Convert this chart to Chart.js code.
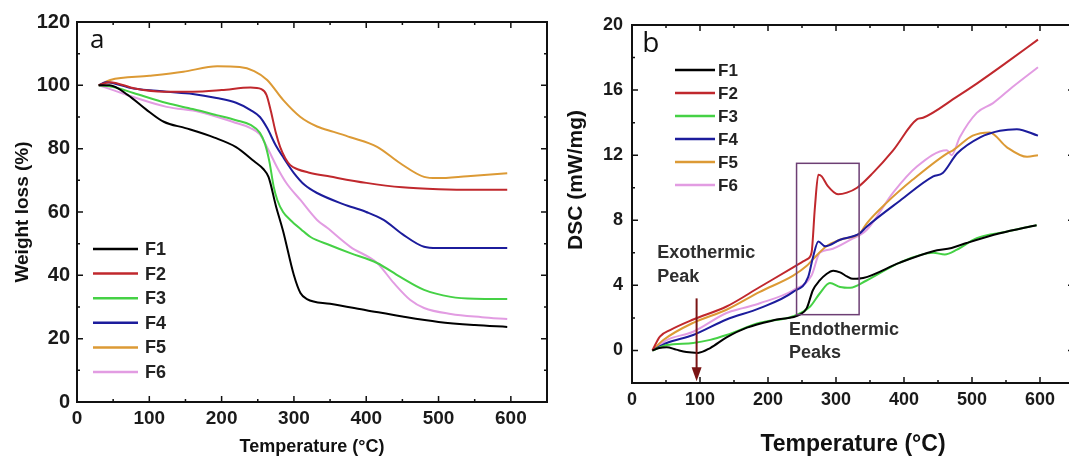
<!DOCTYPE html>
<html>
<head>
<meta charset="utf-8">
<script src="https://cdn.jsdelivr.net/npm/chart.js@4.4.1/dist/chart.umd.min.js"></script>
<style>
  html, body { margin: 0; padding: 0; background: #fff; overflow: hidden; width: 1069px; height: 456px; }
  #tga { position: absolute; left: 0; top: 0; }
  #dsc { position: absolute; left: 560px; top: 0; }
</style>
</head>
<body>
<canvas id="tga" width="560" height="456"></canvas>
<canvas id="dsc" width="520" height="456"></canvas>
<script>
const seriesNames = ['F1', 'F2', 'F3', 'F4', 'F5', 'F6'];
const seriesColors = ['#000000', '#c0282d', '#45d145', '#1c1c9c', '#dc9a35', '#e29ce2'];

// (a) TGA - temperature (°C) / weight (%)
const tgaT_F1 = [30, 45, 70, 95, 120, 150, 190, 220, 245, 258, 265, 275, 285, 300, 309, 318, 350, 400, 450, 500, 550, 595];
const tgaW_F1 = [100, 100, 97, 92.5, 88.5, 86.5, 83.5, 80.5, 76, 73.5, 71, 62, 54, 40, 34.4, 32.5, 31, 29, 27, 25.3, 24.3, 23.7];
const tgaT_F2 = [30, 45, 80, 120, 160, 200, 240, 255, 262, 268, 275, 281, 288, 295, 305, 320, 350, 400, 450, 500, 550, 595];
const tgaW_F2 = [100, 101, 99, 98, 98, 98.5, 99.3, 98.8, 97, 92, 85, 80.5, 77, 74.8, 73.5, 72.5, 71.2, 69.2, 67.8, 67.2, 67, 67];
const tgaT_F3 = [30, 50, 78, 124, 160, 193, 220, 240, 253, 260, 266, 272, 277, 285, 295, 310, 323, 350, 378, 415, 447, 480, 517, 550, 595];
const tgaW_F3 = [100, 99.5, 97.6, 94.4, 92.5, 90.6, 89, 87.5, 85, 81.5, 76, 68, 63.8, 60, 57.5, 54.5, 52.1, 49.5, 47, 43.9, 39.5, 35.4, 33.2, 32.6, 32.5];
const tgaT_F4 = [30, 40, 78, 124, 160, 193, 220, 240, 253, 263, 275, 286, 300, 315, 332, 368, 400, 424, 450, 480, 498, 550, 595];
const tgaW_F4 = [100, 101, 99, 98, 97.3, 96, 94.5, 92.2, 90, 86.5, 81, 77, 72.3, 68.5, 66, 62.5, 60, 57.5, 53, 49, 48.6, 48.6, 48.6];
const tgaT_F5 = [30, 46, 100, 147, 194, 225, 245, 263, 285, 309, 332, 355, 378, 415, 447, 480, 498, 540, 595];
const tgaW_F5 = [100, 101.7, 103, 104.3, 106, 105.8, 104.5, 101.7, 95.4, 90, 87, 85.3, 83.6, 80.6, 75.4, 71.1, 70.7, 71.3, 72.2];
const tgaT_F6 = [30, 50, 78, 124, 170, 216, 240, 253, 265, 277, 290, 309, 332, 346, 378, 415, 438, 461, 480, 517, 560, 595];
const tgaW_F6 = [100, 98.5, 96.3, 93.2, 91.6, 88.4, 86.5, 84.5, 79.5, 74, 69, 63.8, 57.5, 55, 49, 43.9, 37.6, 32.2, 29.7, 27.8, 26.8, 26.2];

// (b) DSC - temperature (°C) / heat flow (mW/mg)
const dscT_F1 = [30, 40, 51, 65, 80, 97, 115, 139, 169, 213, 247, 257, 266, 276, 286, 296, 306, 316, 325, 340, 394, 443, 470, 492, 541, 595];
const dscV_F1 = [0, 0.15, 0.2, 0.05, -0.1, -0.15, 0.15, 0.8, 1.4, 1.9, 2.2, 2.6, 3.7, 4.3, 4.7, 4.9, 4.8, 4.55, 4.4, 4.45, 5.4, 6.1, 6.3, 6.6, 7.2, 7.7];
const dscT_F2 = [30, 41, 56, 90, 139, 188, 237, 257, 264, 269, 274, 279, 288, 303, 316, 331, 354, 384, 419, 428, 478, 507, 551, 597];
const dscV_F2 = [0, 0.85, 1.25, 1.9, 2.7, 3.9, 5.1, 5.6, 6.0, 8.8, 10.8, 10.7, 10.1, 9.6, 9.7, 10.0, 10.9, 12.3, 14.2, 14.3, 15.6, 16.4, 17.7, 19.1];
const dscT_F3 = [30, 51, 90, 115, 139, 188, 237, 262, 276, 291, 306, 321, 345, 394, 443, 460, 478, 507, 550, 595];
const dscV_F3 = [0, 0.33, 0.46, 0.65, 0.95, 1.7, 2.1, 2.7, 3.5, 4.15, 3.9, 3.85, 4.3, 5.4, 6.0, 5.9, 6.2, 6.9, 7.3, 7.7];
const dscT_F4 = [30, 51, 90, 139, 188, 237, 259, 266, 274, 284, 306, 335, 345, 394, 443, 457, 478, 512, 541, 566, 597];
const dscV_F4 = [0, 0.46, 0.95, 1.9, 2.6, 3.6, 4.5, 5.7, 6.7, 6.4, 6.8, 7.2, 7.6, 9.2, 10.7, 10.9, 12.1, 13.1, 13.5, 13.6, 13.2];
const dscT_F5 = [30, 46, 90, 139, 188, 237, 257, 266, 286, 306, 335, 345, 375, 413, 463, 472, 501, 526, 551, 581, 597];
const dscV_F5 = [0, 0.64, 1.7, 2.5, 3.6, 4.6, 5.2, 5.6, 6.4, 6.8, 7.2, 7.8, 9.1, 10.5, 12.1, 12.3, 13.2, 13.4, 12.5, 11.9, 12.0];
const dscT_F6 = [30, 51, 90, 139, 163, 188, 237, 264, 276, 291, 321, 345, 384, 419, 463, 470, 482, 507, 531, 560, 597];
const dscV_F6 = [0, 0.64, 1.15, 2.3, 2.6, 2.9, 3.7, 4.6, 6.0, 6.2, 6.8, 7.4, 9.7, 11.3, 12.3, 12.0, 13.1, 14.6, 15.2, 16.2, 17.4];

const tgaT = [tgaT_F1, tgaT_F2, tgaT_F3, tgaT_F4, tgaT_F5, tgaT_F6];
const tgaW = [tgaW_F1, tgaW_F2, tgaW_F3, tgaW_F4, tgaW_F5, tgaW_F6];
const dscT = [dscT_F1, dscT_F2, dscT_F3, dscT_F4, dscT_F5, dscT_F6];
const dscV = [dscV_F1, dscV_F2, dscV_F3, dscV_F4, dscV_F5, dscV_F6];

const FONT = 'Arial, "Liberation Sans", sans-serif';

function makeDatasets(xs, ys) {
    return seriesNames.map((name, i) => ({
        label: name,
        data: xs[i].map((t, j) => ({ x: t, y: ys[i][j] })),
        borderColor: seriesColors[i],
        borderWidth: 2,
        pointRadius: 0,
        cubicInterpolationMode: 'monotone',
        fill: false
    }));
}

// box around plot + inward tick marks on all four sides
const framePlugin = {
    id: 'frame',
    afterDraw(chart, args, opts) {
        const { ctx, chartArea: a, scales: { x, y } } = chart;
        ctx.save();
        ctx.strokeStyle = '#111';
        ctx.lineWidth = 1.5;
        ctx.beginPath();
        for (let v = x.min + opts.xMinor; v < x.max; v += opts.xMinor) {
            const p = x.getPixelForValue(v);
            const len = v % opts.xMajor === 0 ? 6 : 3;
            ctx.moveTo(p, a.bottom); ctx.lineTo(p, a.bottom - len);
            ctx.moveTo(p, a.top); ctx.lineTo(p, a.top + len);
        }
        for (let v = Math.ceil(y.min / opts.yMinor) * opts.yMinor; v < y.max; v += opts.yMinor) {
            if (v === y.min) continue;
            const p = y.getPixelForValue(v);
            const len = v % opts.yMajor === 0 ? 6 : 3;
            ctx.moveTo(a.left, p); ctx.lineTo(a.left + len, p);
            ctx.moveTo(a.right, p); ctx.lineTo(a.right - len, p);
        }
        ctx.stroke();
        ctx.lineWidth = 2;
        ctx.strokeRect(a.left, a.top, a.right - a.left, a.bottom - a.top);
        ctx.restore();
    }
};

// panel letter, in-plot legend and annotations
const notesPlugin = {
    id: 'notes',
    afterDraw(chart, args, opts) {
        const { ctx, chartArea: a, scales: { x, y } } = chart;
        ctx.save();
        ctx.fillStyle = '#111';
        ctx.font = opts.letterFont;
        ctx.textBaseline = 'middle';
        ctx.fillText(opts.letter, x.getPixelForValue(opts.letterAt[0]), y.getPixelForValue(opts.letterAt[1]));

        const lg = opts.legend;
        ctx.font = lg.font;
        ctx.fillStyle = '#222';
        chart.data.datasets.forEach((ds, i) => {
            const py = a.top + lg.top + i * lg.step;
            ctx.strokeStyle = ds.borderColor;
            ctx.lineWidth = 2.5;
            ctx.beginPath();
            ctx.moveTo(a.left + lg.x0, py);
            ctx.lineTo(a.left + lg.x1, py);
            ctx.stroke();
            ctx.fillText(ds.label, a.left + lg.tx, py + 1);
        });

        if (opts.sideTitle) {
            // y title placed off-centre, as in the original panel
            const st = opts.sideTitle;
            ctx.save();
            ctx.translate(st.x, st.y);
            ctx.rotate(-Math.PI / 2);
            ctx.font = st.font;
            ctx.fillStyle = '#111';
            ctx.textAlign = 'center';
            ctx.fillText(st.text, 0, 0);
            ctx.restore();
        }

        if (opts.box) {
            const b = opts.box;
            ctx.strokeStyle = '#6d3f74';
            ctx.lineWidth = 1.5;
            const l = x.getPixelForValue(b[0]), r = x.getPixelForValue(b[1]);
            const t = y.getPixelForValue(b[3]), btm = y.getPixelForValue(b[2]);
            ctx.strokeRect(l, t, r - l, btm - t);
        }
        if (opts.arrow) {
            const ar = opts.arrow;
            const px = x.getPixelForValue(ar[0]);
            const y0 = y.getPixelForValue(ar[1]), y1 = y.getPixelForValue(ar[2]);
            ctx.strokeStyle = '#7a1414';
            ctx.fillStyle = '#7a1414';
            ctx.lineWidth = 2;
            ctx.beginPath();
            ctx.moveTo(px, y0); ctx.lineTo(px, y1 - 12); ctx.stroke();
            ctx.beginPath();
            ctx.moveTo(px - 5, y1 - 14); ctx.lineTo(px + 5, y1 - 14); ctx.lineTo(px, y1);
            ctx.closePath(); ctx.fill();
        }
        (opts.texts || []).forEach(tx => {
            ctx.font = tx.font;
            ctx.fillStyle = '#2e2e2e';
            ctx.fillText(tx.text, x.getPixelForValue(tx.at[0]), y.getPixelForValue(tx.at[1]));
        });
        ctx.restore();
    }
};

function baseOptions(p) {
    return {
        responsive: false,
        animation: false,
        layout: { padding: p.padding },
        plugins: {
            legend: { display: false },
            tooltip: { enabled: false },
            frame: p.frame,
            notes: p.notes
        },
        scales: {
            x: {
                type: 'linear',
                min: p.xMin, max: p.xMax,
                grid: { display: false, drawTicks: false },
                border: { display: false },
                ticks: {
                    stepSize: 100, includeBounds: false, padding: p.xPad,
                    color: '#1a1a1a', maxRotation: 0,
                    font: { family: FONT, size: p.xTickSize, weight: 'bold' }
                },
                title: {
                    display: true, text: 'Temperature (°C)', color: '#111',
                    font: { family: FONT, size: p.xTitleSize, weight: 'bold', lineHeight: 1 },
                    padding: { top: 0, bottom: p.xTitlePad }
                },
                afterFit: s => { s.height = p.xHeight; }
            },
            y: {
                min: p.yMin, max: p.yMax,
                grid: { display: false, drawTicks: false },
                border: { display: false },
                ticks: {
                    stepSize: p.yStep, padding: p.yPad, color: '#1a1a1a',
                    font: { family: FONT, size: p.yTickSize, weight: 'bold' },
                    callback: p.yLabel
                },
                title: {
                    display: !!p.yTitle, text: p.yTitle, color: '#111',
                    font: { family: FONT, size: p.yTitleSize, weight: 'bold', lineHeight: 1.2 },
                    padding: { top: p.yTitlePad, bottom: 0 }
                },
                afterFit: s => { s.width = p.yWidth; }
            }
        }
    };
}

new Chart(document.getElementById('tga'), {
    type: 'line',
    data: { datasets: makeDatasets(tgaT, tgaW) },
    options: baseOptions({
        padding: { top: 22, right: 13, left: 0, bottom: 0 },
        xMin: 0, xMax: 650, yMin: 0, yMax: 120, yStep: 20,
        yLabel: v => v,
        xTickSize: 19, yTickSize: 20, xPad: 5, yPad: 7,
        xTitleSize: 18, xTitlePad: 0, xHeight: 54,
        yTitle: 'Weight loss (%)', yTitleSize: 19, yTitlePad: 11, yWidth: 77,
        frame: { xMajor: 100, xMinor: 50, yMajor: 20, yMinor: 10 },
        notes: {
            letter: 'a', letterAt: [18, 114], letterFont: '26px "Open Sans", sans-serif',
            legend: { font: 'bold 18px ' + FONT, top: 227, step: 24.6, x0: 16, x1: 61, tx: 68 }
        }
    }),
    plugins: [framePlugin, notesPlugin]
});

new Chart(document.getElementById('dsc'), {
    type: 'line',
    data: { datasets: makeDatasets(dscT, dscV) },
    options: baseOptions({
        padding: { top: 25, right: 6, left: 0, bottom: 0 },
        xMin: 0, xMax: 650, yMin: -2, yMax: 20, yStep: 2,
        yLabel: v => (v >= 0 && v % 4 === 0 ? v : ''),
        xTickSize: 18, yTickSize: 18, xPad: 6, yPad: 9,
        xTitleSize: 23, xTitlePad: 0, xHeight: 73,
        yTitle: '', yTitleSize: 20, yTitlePad: 5, yWidth: 72,
        frame: { xMajor: 100, xMinor: 50, yMajor: 4, yMinor: 2 },
        notes: {
            letter: 'b', letterAt: [15, 18.8], letterFont: '28px "Open Sans", sans-serif',
            legend: { font: 'bold 17px ' + FONT, top: 45, step: 23, x0: 43, x1: 83, tx: 86 },
            sideTitle: { text: 'DSC (mW/mg)', x: 16, y: 180, font: 'bold 21px ' + FONT },
            box: [242, 334, 2.2, 11.5],
            arrow: [95, 3.2, -1.9],
            texts: [
                { text: 'Exothermic', at: [37, 6.0], font: 'bold 18px ' + FONT },
                { text: 'Peak', at: [37, 4.5], font: 'bold 18px ' + FONT },
                { text: 'Endothermic', at: [231, 1.26], font: 'bold 18px ' + FONT },
                { text: 'Peaks', at: [231, -0.16], font: 'bold 18px ' + FONT }
            ]
        }
    }),
    plugins: [framePlugin, notesPlugin]
});
</script>
</body>
</html>
